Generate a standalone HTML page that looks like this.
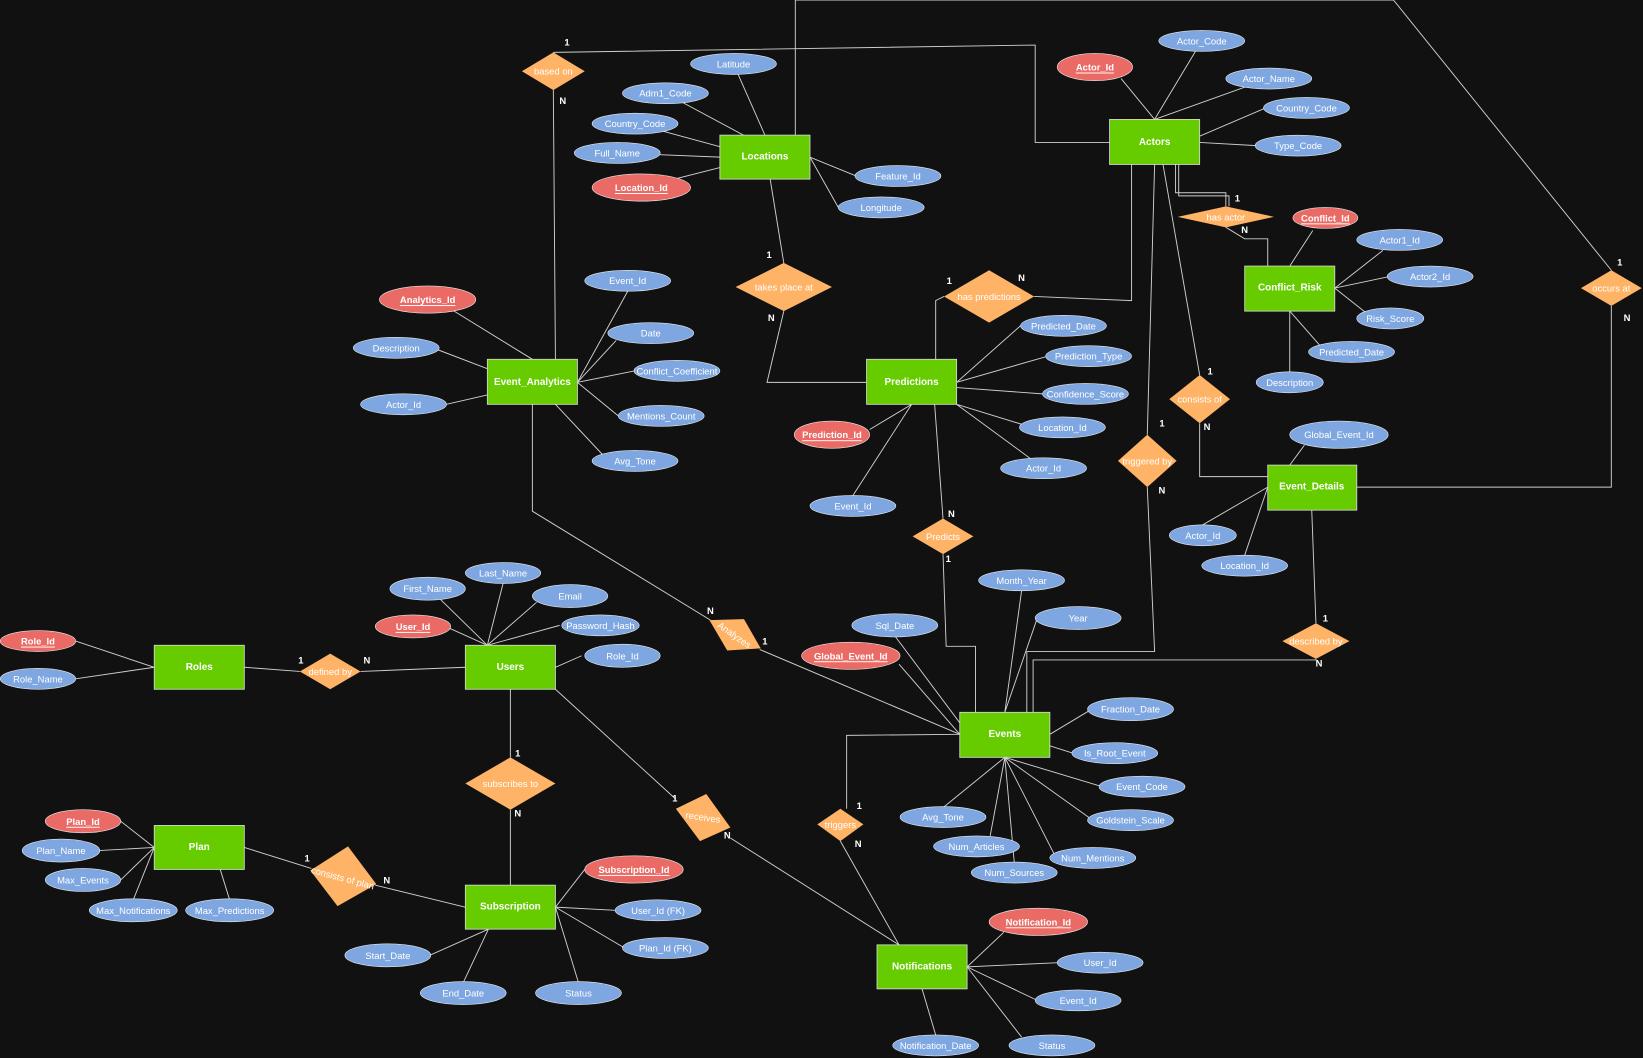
<!DOCTYPE html>
<html><head><meta charset="utf-8"><style>
html,body{margin:0;padding:0;background:#111111;}
svg{display:block}
text{font-family:"Liberation Sans",Arial,sans-serif;fill:#fff;text-anchor:middle;dominant-baseline:central}
.a{font-size:9px}
.e{font-size:9.5px;font-weight:bold}
.c{font-size:9px;font-weight:bold;fill:#eee}
.l{stroke:#cfcfcf;stroke-width:0.9;fill:none}
.ent{fill:#66cc00;stroke:#d8d8d8;stroke-width:0.8}
.att{fill:#7ea6e0;stroke:#e8e8e8;stroke-width:0.6}
.key{fill:#ea6b66;stroke:#e8e8e8;stroke-width:0.6}
.rel{fill:#ffb366}
</style></head><body>
<svg width="1643" height="1058" viewBox="0 0 1568 1010" xmlns="http://www.w3.org/2000/svg">
<rect width="1568" height="1010" fill="#111111"/>
<g class="l">
<path d="M730 129L700 61M730 140L635 89M687 140L606 118M687 150L589 146M687 160L612 179M773 150L817 168M773 150L800 198"/>
<path d="M1102 114L1147 39M1102 114L1070 75M1102 114L1211 75M1145 130L1208 103M1145 136L1199 139"/>
<path d="M1231 254L1253 220M1274 275L1320 239M1274 275L1326 264M1274 275L1303 298M1231 297L1260 330M1231 297L1231 355"/>
<path d="M508 343L430 295M465 352L418 334M465 377L426 386M551 365L599 278M551 365L588 325M551 365L606 354M551 365L590 397M530 386L575 434"/>
<path d="M913 365L974 311M913 365L1000 340M913 370L995 376M913 386L975 405M913 386L996 447M870 386L830 410M870 386L814 473"/>
<path d="M1231 444L1245 425M1210 465L1148 501M1210 465L1188 530"/>
<path d="M465 616L420 572M465 616L480 557M465 616L512 575M465 616L425 598M465 616L534 597M530 637L555 626"/>
<path d="M147 637L72 612M147 637L72 648"/>
<path d="M959 680L975 564M959 680L990 590M916 690L854 607M916 701L858 634M1002 701L1042 677M1002 712L1024 719M959 723L1052 751M959 723L1043 783M959 723L1008 819M959 723L900 771M959 723L945 798M959 723L968 823"/>
<path d="M147 809L115 784M147 809L94 812M147 809L115 840M147 809L127 859M210 830L219 859"/>
<path d="M530 866L558 830M530 866L587 869M530 866L596 905M466 887L410 912M466 887L442 938M530 866L552 938"/>
<path d="M923 923L958 890M923 923L1010 919M923 923L990 955M923 923L975 990M880 944L893 988"/>
<path d="M528 50L988 43L988 136L1059 136M528 86L530 343"/>
<path d="M759 129L759 0L1330 0L1538 258M1538 292L1538 465L1295 465"/>
<path d="M735 171L748 251M748 297L732 365L827 365"/>
<path d="M893 343L893 287L901 283M987 283L1080 287L1080 157"/>
<path d="M1122 157L1122 184L1170 184L1170 197M1125 157L1125 187L1173 187L1173 197M1170 217L1188 228L1210 228L1210 254"/>
<path d="M1110 157L1145 358M1145 404L1145 455L1210 455"/>
<path d="M1102 157L1095 415M1095 465L1102 622L980 622L980 680M986 680L986 630L1256 630L1256 629M1256 595L1252 487"/>
<path d="M892 386L900 495M900 529L903 617L931 617L931 680"/>
<path d="M233 637L286 641M344 641L444 637"/>
<path d="M508 386L508 488L678 592M725 620L916 701"/>
<path d="M487 658L487 723M487 773L487 845"/>
<path d="M530 658L645 763M697 800L858 902"/>
<path d="M916 701L808 702L808 772M802 803L858 902"/>
<path d="M233 809L297 829M358 845L444 866"/>
</g>
<g class="rel">
<polygon points="498,68 528,50 558,68 528,86"/>
<polygon points="702,274 748,251 794,274 748,297"/>
<polygon points="901,283 944,258 987,283 944,308"/>
<polygon points="1124,207 1170,197 1216,207 1170,217"/>
<polygon points="1509,275 1538,258 1567,275 1538,292"/>
<polygon points="1116,381 1145,358 1174,381 1145,404"/>
<polygon points="1067,440 1095,415 1123,440 1095,465"/>
<polygon points="871,512 900,495 929,512 900,529"/>
<polygon points="1224,612 1256,595 1288,612 1256,629"/>
<polygon points="286,641 315,624 344,641 315,658"/>
<polygon points="677,592 710,591 726,619 694,621"/>
<polygon points="444,748 487,723 530,748 487,773"/>
<polygon points="645,772 674,758 697,790 668,803"/>
<polygon points="780,787 802,772 824,787 802,803"/>
<polygon points="296,831 332,808 359,844 322,865"/>
</g>
<g>
<text class="a" x="528" y="68">based on</text>
<text class="a" x="748" y="274">takes place at</text>
<text class="a" x="944" y="283">has predictions</text>
<text class="a" x="1170" y="207">has actor</text>
<text class="a" x="1538" y="275">occurs at</text>
<text class="a" x="1145" y="381">consists of</text>
<text class="a" x="1095" y="440">triggered by</text>
<text class="a" x="900" y="512">Predicts</text>
<text class="a" x="1256" y="612">described by</text>
<text class="a" x="315" y="641">defined by</text>
<text class="a" x="701" y="606" transform="rotate(35 701 606)">Analyzes</text>
<text class="a" x="487" y="748">subscribes to</text>
<text class="a" x="671" y="780" transform="rotate(8 671 780)">receives</text>
<text class="a" x="802" y="787">triggers</text>
<text class="a" x="327" y="838" transform="rotate(15 327 838)">consists of plan</text>
</g>
<g class="c">
<text x="541" y="40">1</text><text x="537" y="96">N</text>
<text x="1546" y="250">1</text><text x="1553" y="303">N</text>
<text x="734" y="243">1</text><text x="736" y="303">N</text>
<text x="906" y="268">1</text><text x="975" y="265">N</text>
<text x="1181" y="189">1</text><text x="1188" y="219">N</text>
<text x="1155" y="354">1</text><text x="1152" y="407">N</text>
<text x="1109" y="404">1</text><text x="1109" y="468">N</text>
<text x="908" y="490">N</text><text x="905" y="533">1</text>
<text x="1265" y="590">1</text><text x="1259" y="633">N</text>
<text x="287" y="630">1</text><text x="350" y="630">N</text>
<text x="678" y="583">N</text><text x="730" y="612">1</text>
<text x="494" y="719">1</text><text x="494" y="776">N</text>
<text x="644" y="762">1</text><text x="694" y="797">N</text>
<text x="820" y="769">1</text><text x="819" y="805">N</text>
<text x="293" y="819">1</text><text x="369" y="840">N</text>
</g>
<g class="ent">
<rect x="687" y="129" width="86" height="42"/>
<rect x="1059" y="114" width="86" height="43"/>
<rect x="1188" y="254" width="86" height="43"/>
<rect x="465" y="343" width="86" height="43"/>
<rect x="827" y="343" width="86" height="43"/>
<rect x="1210" y="444" width="85" height="43"/>
<rect x="147" y="616" width="86" height="42"/>
<rect x="444" y="616" width="86" height="42"/>
<rect x="916" y="680" width="86" height="43"/>
<rect x="147" y="788" width="86" height="42"/>
<rect x="444" y="845" width="86" height="42"/>
<rect x="837" y="902" width="86" height="42"/>
</g>
<g class="e">
<text x="730" y="150">Locations</text>
<text x="1102" y="136">Actors</text>
<text x="1231" y="275">Conflict_Risk</text>
<text x="508" y="365">Event_Analytics</text>
<text x="870" y="365">Predictions</text>
<text x="1252" y="465">Event_Details</text>
<text x="190" y="637">Roles</text>
<text x="487" y="637">Users</text>
<text x="959" y="701">Events</text>
<text x="190" y="809">Plan</text>
<text x="487" y="866">Subscription</text>
<text x="880" y="923">Notifications</text>
</g>
<g>
<ellipse class="att" cx="700" cy="61" rx="41" ry="10"/><text class="a" x="700" y="61">Latitude</text>
<ellipse class="att" cx="635" cy="89" rx="41" ry="10"/><text class="a" x="635" y="89">Adm1_Code</text>
<ellipse class="att" cx="606" cy="118" rx="41" ry="10"/><text class="a" x="606" y="118">Country_Code</text>
<ellipse class="att" cx="589" cy="146" rx="41" ry="10"/><text class="a" x="589" y="146">Full_Name</text>
<ellipse class="key" cx="612" cy="179" rx="47" ry="13"/><text class="a" x="612" y="179" text-decoration="underline" font-weight="bold">Location_Id</text>
<ellipse class="att" cx="857" cy="168" rx="41" ry="10"/><text class="a" x="857" y="168">Feature_Id</text>
<ellipse class="att" cx="841" cy="198" rx="41" ry="10"/><text class="a" x="841" y="198">Longitude</text>
<ellipse class="att" cx="1147" cy="39" rx="41" ry="10"/><text class="a" x="1147" y="39">Actor_Code</text>
<ellipse class="key" cx="1045" cy="64" rx="36" ry="13"/><text class="a" x="1045" y="64" text-decoration="underline" font-weight="bold">Actor_Id</text>
<ellipse class="att" cx="1211" cy="75" rx="41" ry="10"/><text class="a" x="1211" y="75">Actor_Name</text>
<ellipse class="att" cx="1247" cy="103" rx="41" ry="10"/><text class="a" x="1247" y="103">Country_Code</text>
<ellipse class="att" cx="1239" cy="139" rx="41" ry="10"/><text class="a" x="1239" y="139">Type_Code</text>
<ellipse class="key" cx="1265" cy="208" rx="31" ry="10"/><text class="a" x="1265" y="208" text-decoration="underline" font-weight="bold">Conflict_Id</text>
<ellipse class="att" cx="1336" cy="229" rx="41" ry="10"/><text class="a" x="1336" y="229">Actor1_Id</text>
<ellipse class="att" cx="1365" cy="264" rx="41" ry="10"/><text class="a" x="1365" y="264">Actor2_Id</text>
<ellipse class="att" cx="1327" cy="304" rx="32" ry="10"/><text class="a" x="1327" y="304">Risk_Score</text>
<ellipse class="att" cx="1290" cy="336" rx="41" ry="10"/><text class="a" x="1290" y="336">Predicted_Date</text>
<ellipse class="att" cx="1231" cy="365" rx="32" ry="10"/><text class="a" x="1231" y="365">Description</text>
<ellipse class="key" cx="408" cy="286" rx="46" ry="13"/><text class="a" x="408" y="286" text-decoration="underline" font-weight="bold">Analytics_Id</text>
<ellipse class="att" cx="378" cy="332" rx="41" ry="10"/><text class="a" x="378" y="332">Description</text>
<ellipse class="att" cx="385" cy="386" rx="41" ry="10"/><text class="a" x="385" y="386">Actor_Id</text>
<ellipse class="att" cx="599" cy="268" rx="41" ry="10"/><text class="a" x="599" y="268">Event_Id</text>
<ellipse class="att" cx="621" cy="318" rx="41" ry="10"/><text class="a" x="621" y="318">Date</text>
<ellipse class="att" cx="646" cy="354" rx="41" ry="10"/><text class="a" x="646" y="354">Conflict_Coefficient</text>
<ellipse class="att" cx="631" cy="397" rx="41" ry="10"/><text class="a" x="631" y="397">Mentions_Count</text>
<ellipse class="att" cx="606" cy="440" rx="41" ry="10"/><text class="a" x="606" y="440">Avg_Tone</text>
<ellipse class="att" cx="1015" cy="311" rx="41" ry="10"/><text class="a" x="1015" y="311">Predicted_Date</text>
<ellipse class="att" cx="1039" cy="340" rx="41" ry="10"/><text class="a" x="1039" y="340">Prediction_Type</text>
<ellipse class="att" cx="1036" cy="376" rx="41" ry="10"/><text class="a" x="1036" y="376">Confidence_Score</text>
<ellipse class="att" cx="1014" cy="408" rx="41" ry="10"/><text class="a" x="1014" y="408">Location_Id</text>
<ellipse class="att" cx="996" cy="447" rx="41" ry="10"/><text class="a" x="996" y="447">Actor_Id</text>
<ellipse class="key" cx="794" cy="415" rx="36" ry="13"/><text class="a" x="794" y="415" text-decoration="underline" font-weight="bold">Prediction_Id</text>
<ellipse class="att" cx="814" cy="483" rx="41" ry="10"/><text class="a" x="814" y="483">Event_Id</text>
<ellipse class="att" cx="1278" cy="415" rx="47" ry="13"/><text class="a" x="1278" y="415">Global_Event_Id</text>
<ellipse class="att" cx="1148" cy="511" rx="32" ry="10"/><text class="a" x="1148" y="511">Actor_Id</text>
<ellipse class="att" cx="1188" cy="540" rx="41" ry="10"/><text class="a" x="1188" y="540">Location_Id</text>
<ellipse class="att" cx="408" cy="562" rx="36" ry="11"/><text class="a" x="408" y="562">First_Name</text>
<ellipse class="att" cx="480" cy="547" rx="36" ry="10"/><text class="a" x="480" y="547">Last_Name</text>
<ellipse class="att" cx="544" cy="569" rx="36" ry="11"/><text class="a" x="544" y="569">Email</text>
<ellipse class="key" cx="394" cy="598" rx="36" ry="11"/><text class="a" x="394" y="598" text-decoration="underline" font-weight="bold">User_Id</text>
<ellipse class="att" cx="573" cy="597" rx="37" ry="10"/><text class="a" x="573" y="597">Password_Hash</text>
<ellipse class="att" cx="594" cy="626" rx="36" ry="11"/><text class="a" x="594" y="626">Role_Id</text>
<ellipse class="key" cx="36" cy="612" rx="36" ry="10"/><text class="a" x="36" y="612" text-decoration="underline" font-weight="bold">Role_Id</text>
<ellipse class="att" cx="36" cy="648" rx="36" ry="10"/><text class="a" x="36" y="648">Role_Name</text>
<ellipse class="att" cx="975" cy="554" rx="41" ry="10"/><text class="a" x="975" y="554">Month_Year</text>
<ellipse class="att" cx="1029" cy="590" rx="41" ry="11"/><text class="a" x="1029" y="590">Year</text>
<ellipse class="att" cx="854" cy="597" rx="41" ry="11"/><text class="a" x="854" y="597">Sql_Date</text>
<ellipse class="key" cx="812" cy="626" rx="47" ry="13"/><text class="a" x="812" y="626" text-decoration="underline" font-weight="bold">Global_Event_Id</text>
<ellipse class="att" cx="1079" cy="677" rx="41" ry="11"/><text class="a" x="1079" y="677">Fraction_Date</text>
<ellipse class="att" cx="1064" cy="719" rx="41" ry="10"/><text class="a" x="1064" y="719">Is_Root_Event</text>
<ellipse class="att" cx="1090" cy="751" rx="41" ry="10"/><text class="a" x="1090" y="751">Event_Code</text>
<ellipse class="att" cx="1079" cy="783" rx="41" ry="10"/><text class="a" x="1079" y="783">Goldstein_Scale</text>
<ellipse class="att" cx="1043" cy="819" rx="41" ry="10"/><text class="a" x="1043" y="819">Num_Mentions</text>
<ellipse class="att" cx="900" cy="780" rx="41" ry="10"/><text class="a" x="900" y="780">Avg_Tone</text>
<ellipse class="att" cx="932" cy="808" rx="41" ry="10"/><text class="a" x="932" y="808">Num_Articles</text>
<ellipse class="att" cx="968" cy="833" rx="41" ry="10"/><text class="a" x="968" y="833">Num_Sources</text>
<ellipse class="key" cx="79" cy="784" rx="36" ry="11"/><text class="a" x="79" y="784" text-decoration="underline" font-weight="bold">Plan_Id</text>
<ellipse class="att" cx="58" cy="812" rx="37" ry="11"/><text class="a" x="58" y="812">Plan_Name</text>
<ellipse class="att" cx="79" cy="840" rx="36" ry="11"/><text class="a" x="79" y="840">Max_Events</text>
<ellipse class="att" cx="127" cy="869" rx="42" ry="11"/><text class="a" x="127" y="869">Max_Notifications</text>
<ellipse class="att" cx="219" cy="869" rx="42" ry="11"/><text class="a" x="219" y="869">Max_Predictions</text>
<ellipse class="key" cx="605" cy="830" rx="47" ry="13"/><text class="a" x="605" y="830" text-decoration="underline" font-weight="bold">Subscription_Id</text>
<ellipse class="att" cx="628" cy="869" rx="41" ry="10"/><text class="a" x="628" y="869">User_Id (FK)</text>
<ellipse class="att" cx="635" cy="905" rx="41" ry="10"/><text class="a" x="635" y="905">Plan_Id (FK)</text>
<ellipse class="att" cx="370" cy="912" rx="41" ry="11"/><text class="a" x="370" y="912">Start_Date</text>
<ellipse class="att" cx="442" cy="948" rx="41" ry="11"/><text class="a" x="442" y="948">End_Date</text>
<ellipse class="att" cx="552" cy="948" rx="41" ry="11"/><text class="a" x="552" y="948">Status</text>
<ellipse class="key" cx="991" cy="880" rx="47" ry="13"/><text class="a" x="991" y="880" text-decoration="underline" font-weight="bold">Notification_Id</text>
<ellipse class="att" cx="1050" cy="919" rx="41" ry="10"/><text class="a" x="1050" y="919">User_Id</text>
<ellipse class="att" cx="1029" cy="955" rx="41" ry="10"/><text class="a" x="1029" y="955">Event_Id</text>
<ellipse class="att" cx="1004" cy="998" rx="41" ry="10"/><text class="a" x="1004" y="998">Status</text>
<ellipse class="att" cx="893" cy="998" rx="41" ry="10"/><text class="a" x="893" y="998">Notification_Date</text>
</g>
</svg>
</body></html>
